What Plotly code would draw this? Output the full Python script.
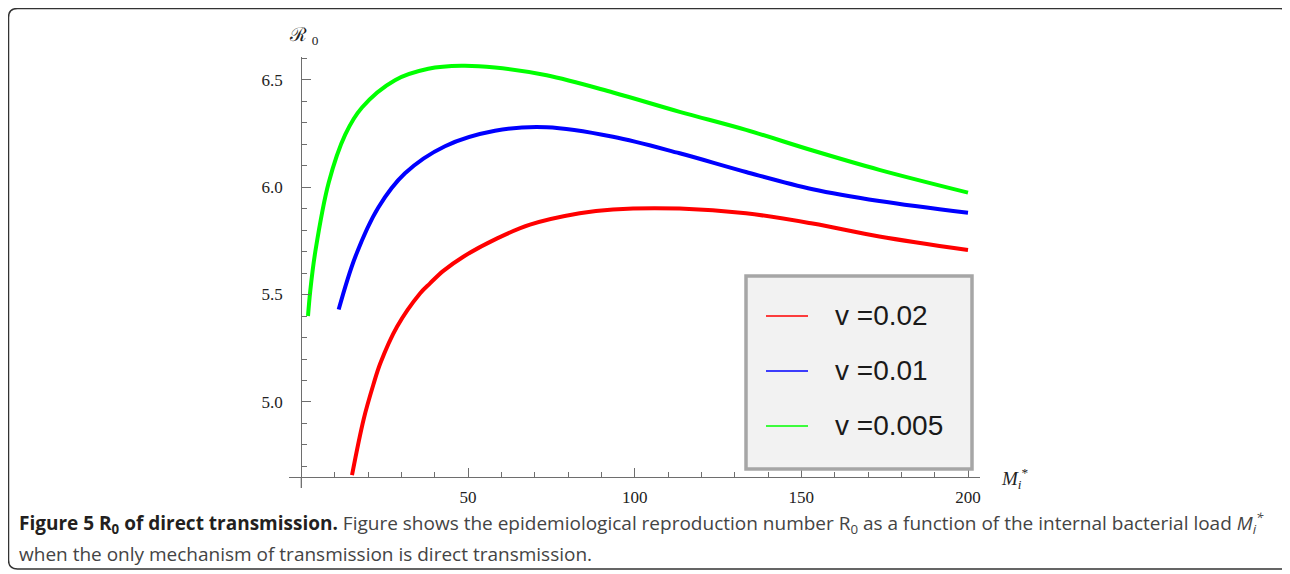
import plotly.graph_objects as go

# ---- data ----
series_names = ["v =0.02", "v =0.01", "v =0.005"]
series_colors = ["#ff0000", "#0000ff", "#00ff00"]

red_x = [15.2, 18.7, 21.6, 23.7, 28.7, 35.6, 38.6, 42.6, 48.6, 58.6, 68.6, 83.5, 93.5, 113.5, 133.4, 153.4, 173.4, 200]
red_y = [4.66, 4.92, 5.08, 5.18, 5.35, 5.505, 5.552, 5.61, 5.676, 5.76, 5.825, 5.878, 5.896, 5.90, 5.878, 5.83, 5.77, 5.707]

blue_x = [11.2, 16.2, 23.1, 31.1, 43.1, 58.1, 73.6, 93.5, 113.5, 133.4, 153.4, 173.4, 200]
blue_y = [5.43, 5.676, 5.905, 6.064, 6.19, 6.262, 6.278, 6.234, 6.157, 6.07, 5.99, 5.935, 5.88]

green_x = [2.0, 2.7, 4.2, 8.2, 13.2, 18.2, 28.1, 38.1, 48.1, 58.1, 73.6, 93.5, 113.5, 133.4, 153.4, 173.4, 200]
green_y = [5.40, 5.52, 5.70, 6.02, 6.245, 6.37, 6.497, 6.55, 6.564, 6.556, 6.52, 6.44, 6.35, 6.266, 6.17, 6.08, 5.974]

x_ticks = [50, 100, 150, 200]
y_ticks = [5.0, 5.5, 6.0, 6.5]

xs = [red_x, blue_x, green_x]
ys = [red_y, blue_y, green_y]

# ---- layout geometry (pixels in the reference; page body adds an 8px offset) ----
OFF = 8
W, H = 1290 - OFF, 574 - OFF
L, R, T, B = 289 - OFF, 980 - OFF, 57 - OFF, 477 - OFF
pw, ph = R - L, B - T


def px(p):
    return (p - OFF - L) / pw


def py(q):
    return (B - (q - OFF)) / ph


x_range = [-3.7, 203.6]
y_range = [4.651, 6.605]

fig = go.Figure()
for x, y, n, c in zip(xs, ys, series_names, series_colors):
    fig.add_trace(go.Scatter(x=x, y=y, mode="lines", name=n,
                             line=dict(color=c, width=4, shape="spline", smoothing=1.0),
                             showlegend=False, hoverinfo="skip"))

y_axis_pos = (0 - x_range[0]) / (x_range[1] - x_range[0])
serif = "Liberation Serif, Times New Roman, serif"
axis_col = "#6e6e6e"

fig.update_layout(
    width=W, height=H,
    margin=dict(l=L, r=W - R, t=T, b=H - B, pad=0),
    paper_bgcolor="white", plot_bgcolor="white",
    showlegend=False,
    xaxis=dict(range=x_range, domain=[0, 1], showgrid=False, zeroline=False,
               showline=True, linecolor=axis_col, linewidth=1.3,
               tickvals=x_ticks, ticktext=[str(v) for v in x_ticks],
               ticks="inside", ticklen=9, tickwidth=1.2, tickcolor=axis_col,
               minor=dict(dtick=10, tick0=0, ticks="inside", ticklen=5, tickwidth=1, tickcolor=axis_col),
               tickfont=dict(family=serif, size=17, color="#222"), ticklabelstandoff=4),
    yaxis=dict(range=y_range, anchor="free", position=y_axis_pos, showgrid=False, zeroline=False,
               showline=True, linecolor=axis_col, linewidth=1.3,
               tickvals=y_ticks, ticktext=["%.1f" % v for v in y_ticks],
               ticks="inside", ticklen=9, tickwidth=1.2, tickcolor=axis_col,
               minor=dict(dtick=0.1, tick0=5.0, ticks="inside", ticklen=5, tickwidth=1, tickcolor=axis_col),
               tickfont=dict(family=serif, size=17, color="#222"), ticklabelstandoff=15),
)

shapes = []
# y axis extends a little below the x axis
shapes.append(dict(type="line", xref="x", yref="paper", x0=0, x1=0, y0=py(477), y1=py(488),
                   line=dict(color=axis_col, width=1.3)))

# rounded figure border
x0b, y0b, x1b, y1b, r = px(8.5), py(8.5), px(1289), py(569), 9
rx, ry = r / pw, r / ph
path = (f"M {x0b + rx},{y0b} L {x1b - rx},{y0b} Q {x1b},{y0b} {x1b},{y0b - ry} "
        f"M {x0b},{y0b - ry} Q {x0b},{y0b} {x0b + rx},{y0b} "
        f"M {x0b},{y0b - ry} L {x0b},{y1b + ry} Q {x0b},{y1b} {x0b + rx},{y1b} L {x1b},{y1b}")
shapes.append(dict(type="path", xref="paper", yref="paper", path=path,
                   line=dict(color="#333333", width=1.5)))

# legend box
shapes.append(dict(type="rect", xref="paper", yref="paper",
                   x0=px(746), x1=px(972), y0=py(469), y1=py(276),
                   fillcolor="#f2f2f2", line=dict(color="#a6a6a6", width=3.5)))

annotations = []
legend_rows = [316, 371, 426]
for n, c, yy in zip(series_names, series_colors, legend_rows):
    shapes.append(dict(type="line", xref="paper", yref="paper",
                       x0=px(766), x1=px(808), y0=py(yy), y1=py(yy),
                       line=dict(color=c, width=1.5)))
    annotations.append(dict(xref="paper", yref="paper", x=px(833), y=py(yy - 1), text=n,
                            showarrow=False, xanchor="left", yanchor="middle",
                            font=dict(family="Liberation Sans, Arial, sans-serif", size=28, color="#1a1a1a")))

# axis titles
annotations.append(dict(xref="paper", yref="paper", x=px(287), y=py(36),
                        text="ℛ <sub>0</sub>", showarrow=False, xanchor="left", yanchor="middle",
                        font=dict(family=serif, size=19, color="#222")))
annotations.append(dict(xref="paper", yref="paper", x=px(999), y=py(478),
                        text="<i>M<sub>i</sub></i><sup>*</sup>", showarrow=False, xanchor="left", yanchor="middle",
                        font=dict(family=serif, size=19, color="#222")))

# caption
cap_font = "Open Sans, Noto Sans, sans-serif"
line1 = ("<b>Figure 5 R<sub>0</sub> of direct transmission.</b> "
         "<span style='color:#444444'>Figure shows the epidemiological reproduction number R<sub>0</sub> "
         "as a function of the internal bacterial load <i>M<sub>i</sub><sup>*</sup></i></span>")
line2 = "when the only mechanism of transmission is direct transmission."
annotations.append(dict(xref="paper", yref="paper", x=px(17), y=py(523), text=line1,
                        showarrow=False, xanchor="left", yanchor="middle",
                        font=dict(family=cap_font, size=19, color="#231f20")))
annotations.append(dict(xref="paper", yref="paper", x=px(17), y=py(554), text=line2,
                        showarrow=False, xanchor="left", yanchor="middle",
                        font=dict(family=cap_font, size=19, color="#444444")))

fig.update_layout(shapes=shapes, annotations=annotations)
fig.write_html("out.html")
